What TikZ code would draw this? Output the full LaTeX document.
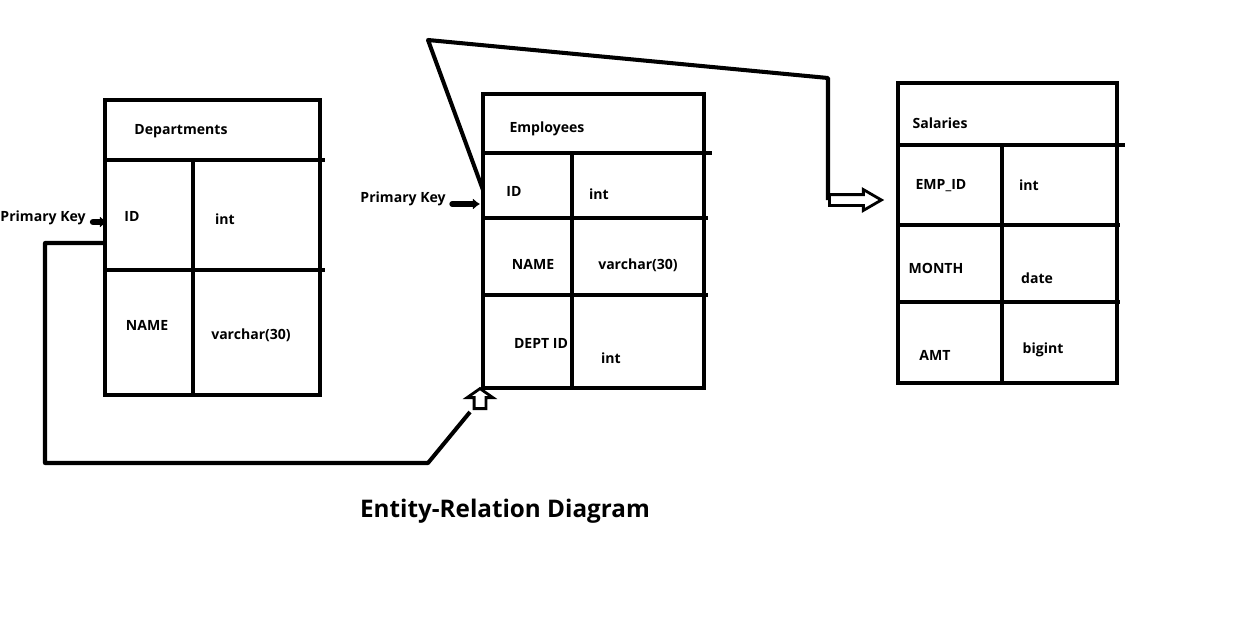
\documentclass[tikz,border=0pt]{standalone}
\usepackage{fontspec}
\setmainfont{Open Sans}
\usetikzlibrary{arrows.meta,shapes.arrows}
\definecolor{ink}{HTML}{000000}

\tikzset{
  tbl/.style={ink,line width=2.3pt},
  link/.style={ink,line width=2.3pt,line join=round},
  cell/.style={font=\bfseries\fontsize{8}{9}\selectfont,inner sep=0pt},
  keyarrow/.style={ink,line width=3.6pt,line cap=round,-{Latex[length=4pt,width=6.5pt]}},
  hollow/.style={single arrow,draw=ink,line width=1.6pt,minimum height=1.04cm,
    single arrow head extend=0.1cm,single arrow tip angle=60,inner sep=0.08cm}
}

\begin{document}
\begin{tikzpicture}[x=0.02cm,y=-0.02cm]
\useasboundingbox (0,0) rectangle (1235,619);

% Departments
\draw[tbl] (105,100) rectangle (320,395);
\draw[tbl] (105,160) -- (325,160);
\draw[tbl] (105,270) -- (325,270);
\draw[tbl] (193,160) -- (193,395);
\node[cell] (dep-title) at (181,131) {Departments};
\node[cell] (dep-id) at (132,216) {ID};
\node[cell] (dep-idtype) at (225,219) {int};
\node[cell] (dep-name) at (147,325) {NAME};
\node[cell] (dep-nametype) at (251,335) {varchar(30)};

% Employees
\draw[tbl] (483,94) rectangle (704,388);
\draw[tbl] (483,153) -- (712,153);
\draw[tbl] (483,218) -- (708,218);
\draw[tbl] (483,295) -- (708,295);
\draw[tbl] (572,153) -- (572,388);
\node[cell] (emp-title) at (547,129) {Employees};
\node[cell] (emp-id) at (514,191) {ID};
\node[cell] (emp-idtype) at (599,194) {int};
\node[cell] (emp-name) at (533,264) {NAME};
\node[cell] (emp-nametype) at (638,265) {varchar(30)};
\node[cell] (emp-dept) at (541,343) {DEPT ID};
\node[cell] (emp-depttype) at (611,358) {int};

% Salaries
\draw[tbl] (898,83) rectangle (1117,383);
\draw[tbl] (898,145) -- (1125,145);
\draw[tbl] (898,225) -- (1120,225);
\draw[tbl] (898,302) -- (1120,302);
\draw[tbl] (1002,145) -- (1002,385);
\node[cell] (sal-title) at (940,123) {Salaries};
\node[cell] (sal-emp) at (941,186) {EMP\_ID};
\node[cell] (sal-emptype) at (1029,185) {int};
\node[cell] (sal-month) at (936,268) {MONTH};
\node[cell] (sal-monthtype) at (1037,278) {date};
\node[cell] (sal-amt) at (935,355) {AMT};
\node[cell] (sal-amttype) at (1043,350) {bigint};

% primary keys
\node[cell,anchor=east] (dep-pk) at (86,218) {Primary Key};
\coordinate (dep-pk-in) at (107,222);
\draw[keyarrow] (93,222) -- (dep-pk-in);
\node[cell,anchor=east] (emp-pk) at (446,199) {Primary Key};
\coordinate (emp-pk-in) at (480,204);
\draw[keyarrow,line width=3pt] (452,204) -- (emp-pk-in);

% links
\coordinate (dep-out) at (105,243);
\coordinate (emp-in) at (470,412);
\draw[link] (dep-out) -- (45,243) -- (45,463) -- (428,463) -- (emp-in);
\node[hollow,shape border rotate=90,anchor=tail,minimum height=0.4cm,
  inner sep=0.09cm,single arrow head extend=0.14cm,single arrow tip angle=110]
  (emp-arrow) at (480,410) {};

\coordinate (emp-out) at (483,190);
\coordinate (sal-in) at (828,200);
\draw[link] (emp-out) -- (428,40) -- (828,78) -- (sal-in);
\node[hollow,anchor=tail] (sal-arrow) at (sal-in) {};

\node[font=\bfseries\fontsize{13.8}{16}\selectfont] (caption) at (505,511) {Entity-Relation Diagram};
\end{tikzpicture}
\end{document}
